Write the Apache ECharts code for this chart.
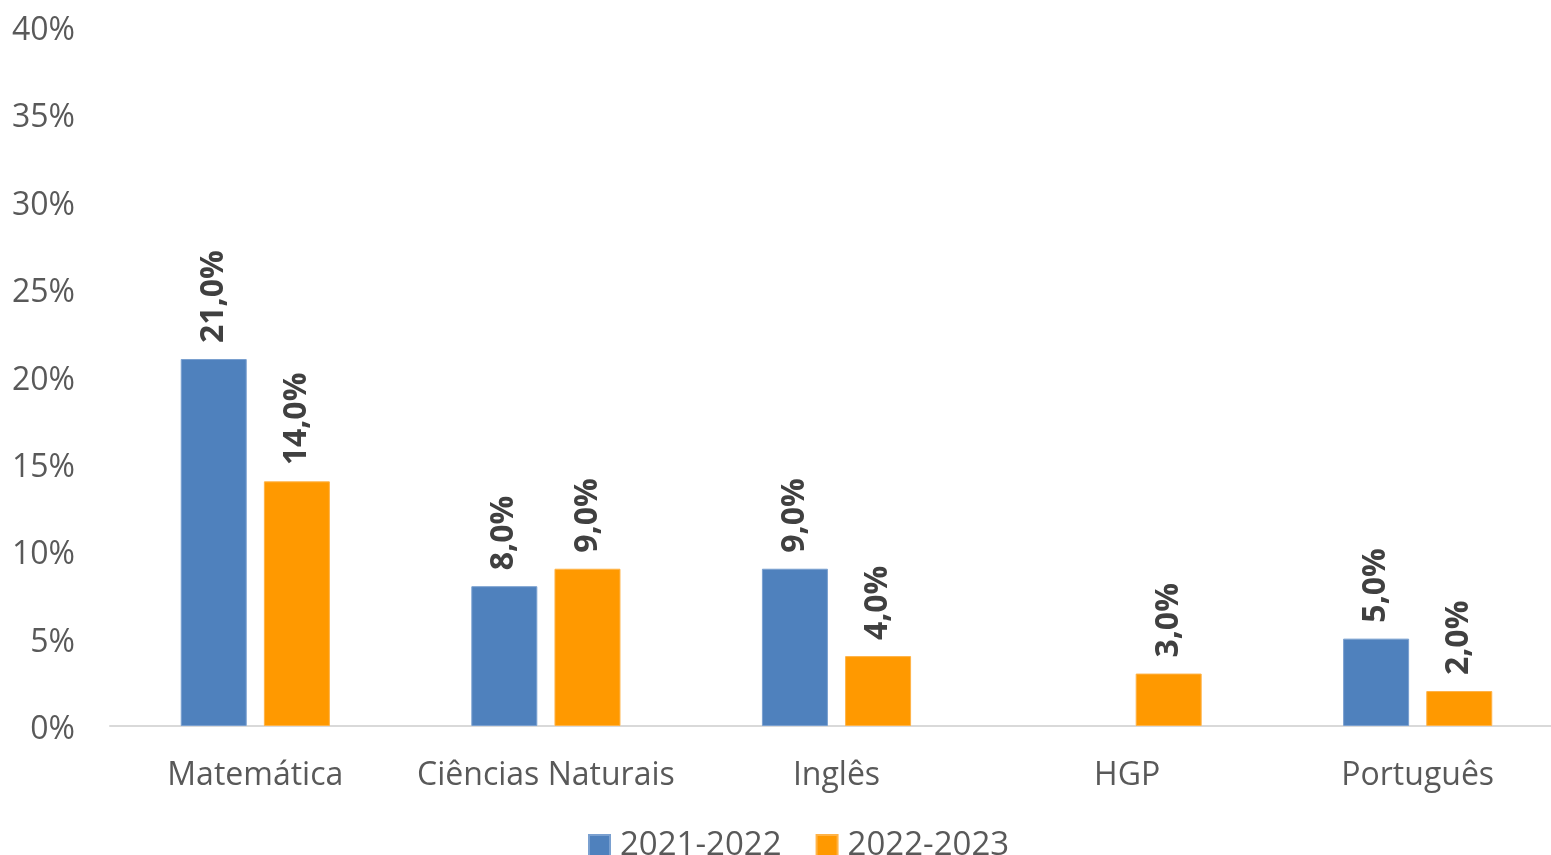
<!DOCTYPE html>
<html>
<head>
<meta charset="utf-8">
<script src="https://cdn.jsdelivr.net/npm/echarts@6/dist/echarts.min.js"></script>
<style>
  html, body { margin: 0; padding: 0; background: #fff; }
  #chart { width: 1551px; height: 855px; }
</style>
</head>
<body>
<div id="chart"></div>
<script>
// disciplinas e percentagens por ano letivo
var categories = ['Matemática', 'Ciências Naturais', 'Inglês', 'HGP', 'Português'];
var seriesNames = ['2021-2022', '2022-2023'];
var values2122 = [21, 8, 9, null, 5];
var values2223 = [14, 9, 4, 3, 2];
var yTicks = [0, 5, 10, 15, 20, 25, 30, 35, 40];

var FONT = '"Open Sans", "Noto Sans", sans-serif';

var chart = echarts.init(document.getElementById('chart'));

var barLabel = {
    show: true,
    position: 'top',
    rotate: 90,
    align: 'left',
    verticalAlign: 'middle',
    distance: 16,
    color: '#404040',
    fontFamily: FONT,
    fontWeight: 'bold',
    fontSize: 32,
    formatter: function (p) {
        if (p.value == null) return '';
        return p.value.toFixed(1).replace('.', ',') + '%';
    }
};

var option = {
    animation: false,
    textStyle: { fontFamily: FONT },
    grid: { left: 110, top: 27, width: 1453, height: 699, containLabel: false, outerBoundsMode: 'none' },
    legend: {
        data: seriesNames,
        top: 824,
        left: 583,
        itemWidth: 21,
        itemHeight: 21,
        itemGap: 34,
        icon: 'rect',
        textStyle: { fontSize: 33, color: '#595959', fontFamily: FONT, padding: [0, 0, 0, 5] }
    },
    xAxis: {
        type: 'category',
        data: categories,
        axisLine: { lineStyle: { color: '#d9d9d9', width: 2 } },
        axisTick: { show: false },
        axisLabel: { interval: 0, fontSize: 32, color: '#595959', margin: 34, fontFamily: FONT }
    },
    yAxis: {
        type: 'value',
        min: yTicks[0],
        max: yTicks[yTicks.length - 1],
        interval: 5,
        splitLine: { show: false },
        axisLine: { show: false },
        axisTick: { show: false },
        axisLabel: {
            color: '#595959',
            margin: 35,
            fontFamily: FONT,
            formatter: function (v) { return '{t|' + v + '%}'; },
            rich: {
                t: { fontSize: 32, color: '#595959', fontFamily: FONT, padding: [8, 0, 0, 0] }
            }
        }
    },
    series: [
        {
            name: seriesNames[0],
            type: 'bar',
            data: values2122,
            barWidth: 66,
            barGap: '26%',
            itemStyle: { color: '#4f81bd', borderColor: '#7aa0d0', borderWidth: 1 },
            label: barLabel
        },
        {
            name: seriesNames[1],
            type: 'bar',
            data: values2223,
            barWidth: 66,
            barGap: '26%',
            itemStyle: { color: '#ff9900', borderColor: '#ffb347', borderWidth: 1 },
            label: barLabel
        }
    ]
};

chart.setOption(option);
</script>
</body>
</html>
